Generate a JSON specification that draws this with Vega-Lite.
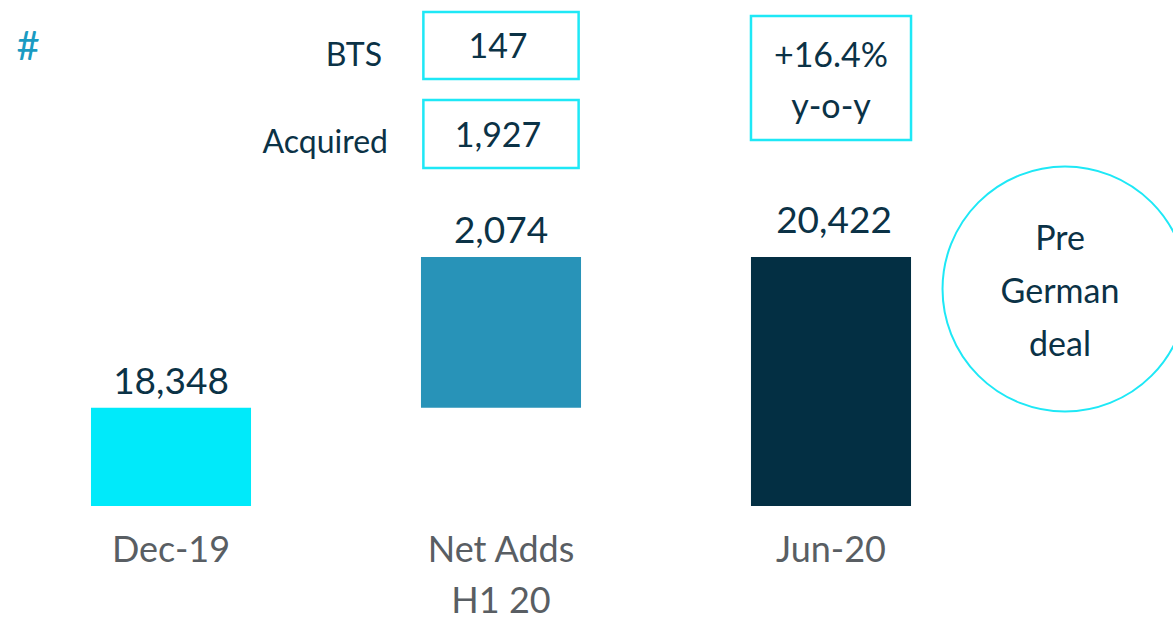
{
  "$schema": "https://vega.github.io/schema/vega-lite/v6.json",
  "width": 990,
  "height": 506,
  "autosize": {"type": "none"},
  "padding": {"left": 6, "top": 0, "right": 177, "bottom": 113},
  "background": "white",
  "config": {
    "view": {"stroke": null},
    "text": {"font": "Lato", "color": "#0b3246"},
    "axis": {"labelFont": "Lato"}
  },
  "encoding": {
    "x": {
      "field": "cat",
      "type": "nominal",
      "sort": null,
      "scale": {"domain": ["Dec-19", "Net Adds H1 20", "Jun-20"], "paddingInner": 0.515, "paddingOuter": 0.2575},
      "axis": {
        "title": null,
        "labelAngle": 0,
        "ticks": false,
        "tickSize": 0,
        "domain": false,
        "grid": false,
        "labelFontSize": 36,
        "labelColor": "#595e63",
        "labelPadding": 55,
        "labelBaseline": "alphabetic",
        "labelLineHeight": 51,
        "labelOverlap": false,
        "labelFlush": false,
        "labelLimit": 400,
        "labelExpr": "datum.value == 'Net Adds H1 20' ? ['Net Adds', 'H1 20'] : datum.value"
      }
    }
  },
  "layer": [
    {
      "data": {"values": [
        {"cat": "Dec-19", "start": 17000, "end": 18348, "kind": "start", "label": "18,348"},
        {"cat": "Net Adds H1 20", "start": 18348, "end": 20422, "kind": "delta", "label": "2,074"},
        {"cat": "Jun-20", "start": 17000, "end": 20422, "kind": "end", "label": "20,422"}
      ]},
      "layer": [
        {
          "mark": {"type": "bar"},
          "encoding": {
            "y": {"field": "start", "type": "quantitative", "scale": {"domain": [17000, 23951], "nice": false, "zero": false}, "axis": null},
            "y2": {"field": "end"},
            "color": {"field": "kind", "type": "nominal", "scale": {"domain": ["start", "delta", "end"], "range": ["#00eafa", "#2893b8", "#032f43"]}, "legend": null}
          }
        },
        {
          "transform": [{"filter": "datum.cat != 'Jun-20'"}],
          "mark": {"type": "text", "fontSize": 37, "baseline": "alphabetic", "dy": -14},
          "encoding": {
            "y": {"field": "end", "type": "quantitative"},
            "text": {"field": "label"}
          }
        },
        {
          "transform": [{"filter": "datum.cat == 'Jun-20'"}],
          "mark": {"type": "text", "fontSize": 37, "baseline": "alphabetic", "dy": -24, "dx": 3},
          "encoding": {
            "y": {"field": "end", "type": "quantitative"},
            "text": {"field": "label"}
          }
        }
      ]
    },
    {
      "data": {"values": [{"cat": "Net Adds H1 20"}]},
      "mark": {"type": "rect", "fill": "white", "stroke": "#1ee8f6", "strokeWidth": 2.5, "width": {"band": 0.97}},
      "encoding": {
        "y": {"datum": 23786, "type": "quantitative"},
        "y2": {"datum": 22865}
      }
    },
    {
      "data": {"values": [{"cat": "Net Adds H1 20"}]},
      "mark": {"type": "rect", "fill": "white", "stroke": "#1ee8f6", "strokeWidth": 2.5, "width": {"band": 0.97}},
      "encoding": {
        "y": {"datum": 22577, "type": "quantitative"},
        "y2": {"datum": 21643}
      }
    },
    {
      "data": {"values": [{"cat": "Jun-20"}]},
      "mark": {"type": "rect", "fill": "white", "stroke": "#1ee8f6", "strokeWidth": 2.5},
      "encoding": {
        "y": {"datum": 23731, "type": "quantitative"},
        "y2": {"datum": 22027}
      }
    },
    {
      "data": {"values": [{"cat": "Net Adds H1 20", "t": "147"}]},
      "mark": {"type": "text", "fontSize": 34, "baseline": "alphabetic", "dx": -3},
      "encoding": {"y": {"datum": 23154, "type": "quantitative"}, "text": {"field": "t"}}
    },
    {
      "data": {"values": [{"cat": "Net Adds H1 20", "t": "1,927"}]},
      "mark": {"type": "text", "fontSize": 34, "baseline": "alphabetic", "dx": -3},
      "encoding": {"y": {"datum": 21931, "type": "quantitative"}, "text": {"field": "t"}}
    },
    {
      "data": {"values": [{"cat": "Net Adds H1 20", "t": "BTS"}]},
      "mark": {"type": "text", "fontSize": 32, "baseline": "alphabetic", "align": "right", "dx": -119},
      "encoding": {"y": {"datum": 23044, "type": "quantitative"}, "text": {"field": "t"}}
    },
    {
      "data": {"values": [{"cat": "Net Adds H1 20", "t": "Acquired"}]},
      "mark": {"type": "text", "fontSize": 32, "baseline": "alphabetic", "align": "right", "dx": -113},
      "encoding": {"y": {"datum": 21849, "type": "quantitative"}, "text": {"field": "t"}}
    },
    {
      "data": {"values": [{"cat": "Jun-20", "t": ["+16.4%", "y-o-y"]}]},
      "mark": {"type": "text", "fontSize": 34, "baseline": "alphabetic", "lineHeight": 51},
      "encoding": {"y": {"datum": 23030, "type": "quantitative"}, "text": {"field": "t"}}
    },
    {
      "data": {"values": [{"cat": "Jun-20"}]},
      "mark": {"type": "point", "shape": "circle", "filled": false, "stroke": "#1ee8f6", "strokeWidth": 2, "size": 60000, "xOffset": 234, "opacity": 1},
      "encoding": {"y": {"datum": 19981, "type": "quantitative"}}
    },
    {
      "data": {"values": [{"cat": "Jun-20", "t": ["Pre", "German", "deal"]}]},
      "mark": {"type": "text", "fontSize": 34, "baseline": "alphabetic", "lineHeight": 53, "xOffset": 229},
      "encoding": {"y": {"datum": 20516, "type": "quantitative"}, "text": {"field": "t"}}
    },
    {
      "data": {"values": [{"cat": "Dec-19", "t": "#"}]},
      "mark": {"type": "text", "fontSize": 40, "baseline": "alphabetic", "dx": -143, "color": "#1a9bc2"},
      "encoding": {"y": {"datum": 23126, "type": "quantitative"}, "text": {"field": "t"}}
    }
  ]
}
